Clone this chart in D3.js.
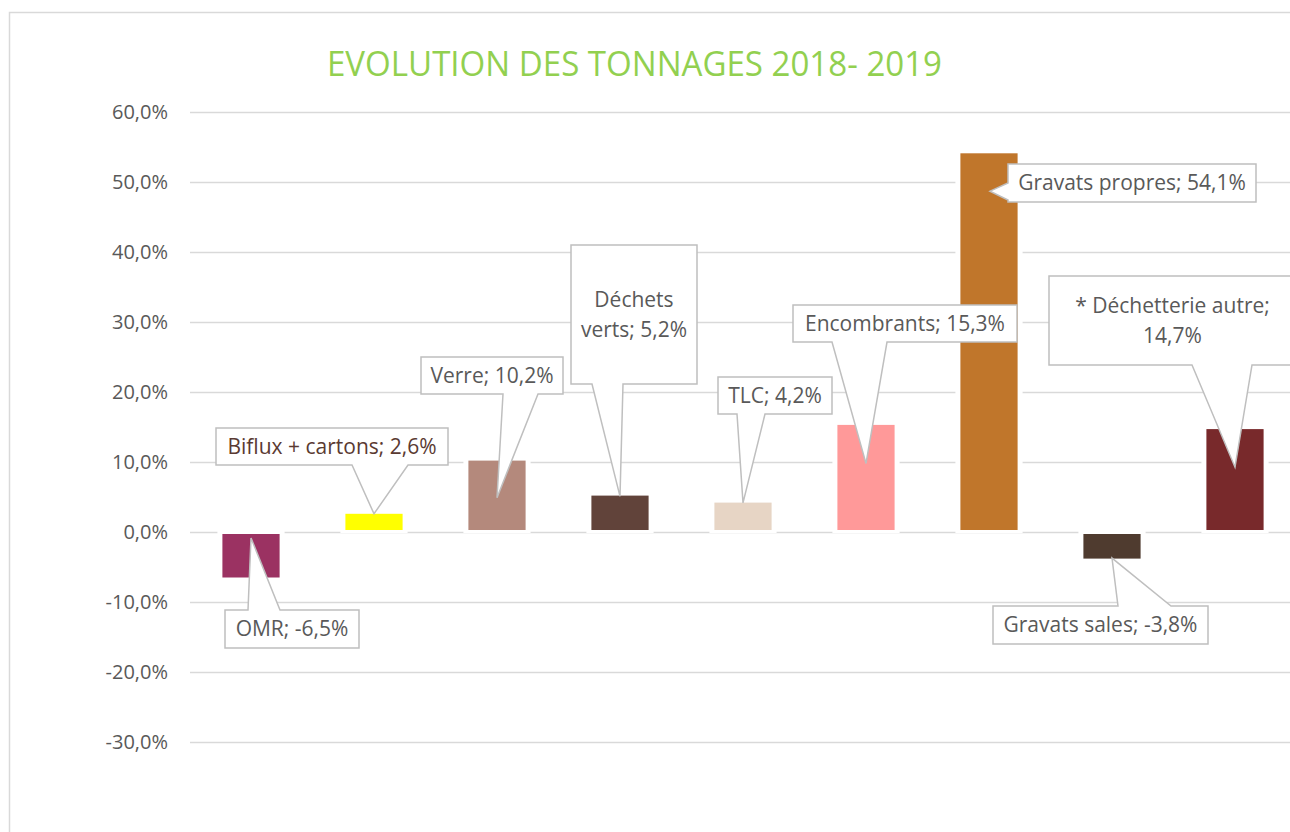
<!DOCTYPE html>
<html>
<head>
<meta charset="utf-8">
<script src="https://cdn.jsdelivr.net/npm/d3@7"></script>
<style>
  body { margin: 0; background: #fff; }
  text { font-family: "Open Sans", "Noto Sans", sans-serif; }
</style>
</head>
<body>
<div class="chart"></div>
<script>
var svgWidth = 1290;
var svgHeight = 832;

// data
var categories = ["OMR", "Biflux + cartons", "Verre", "Déchets verts", "TLC",
  "Encombrants", "Gravats propres", "Gravats sales", "* Déchetterie autre"];
var values = [-6.5, 2.6, 10.2, 5.2, 4.2, 15.3, 54.1, -3.8, 14.7];
var labelTexts = [["OMR; -6,5%"], ["Biflux + cartons; 2,6%"], ["Verre; 10,2%"],
  ["Déchets", "verts; 5,2%"], ["TLC; 4,2%"], ["Encombrants; 15,3%"],
  ["Gravats propres; 54,1%"], ["Gravats sales; -3,8%"], ["* Déchetterie autre;", "14,7%"]];
var yTicks = [60, 50, 40, 30, 20, 10, 0, -10, -20, -30];

var colors = ["#9b3262", "#ffff00", "#b4897c", "#61433a", "#e7d5c5",
  "#ff9999", "#c0762b", "#4f3b2f", "#78292b"];

// callout layout: box [x0,y0,x1,y1], side where the pointer leaves, base of pointer,
// and where along the bar (0 = axis, 1 = bar end) the pointer tip lands
var callouts = [
  { box: [225, 610, 359, 648], side: "top", base: [248, 280], tip: 0.13 },
  { box: [216, 428, 448, 465], side: "bottom", base: [352, 408], tip: 1.0 },
  { box: [421, 357, 563, 394], side: "bottom", base: [503, 538], tip: 0.48 },
  { box: [571, 245, 697, 384], side: "bottom", base: [592, 623], tip: 0.98 },
  { box: [718, 377, 832, 414], side: "bottom", base: [737, 765], tip: 0.99 },
  { box: [793, 305, 1017, 342], side: "bottom", base: [832, 887], tip: 0.64 },
  { box: [1008, 164, 1256, 202], side: "left", base: [183, 200], tip: 0.9 },
  { box: [993, 606, 1208, 644], side: "top", base: [1118, 1171], tip: 0.98 },
  { box: [1049, 276, 1300, 365], side: "bottom", base: [1192, 1252], tip: 0.63 }
];

var svg = d3.select(".chart").append("svg")
  .attr("width", svgWidth)
  .attr("height", svgHeight);

// chart frame
svg.append("path")
  .attr("d", "M9.5,832 V12.5 H1290")
  .attr("fill", "none")
  .attr("stroke", "#d9d9d9")
  .attr("stroke-width", 1.5);

// title
svg.append("text")
  .attr("x", 327)
  .attr("y", 76)
  .attr("textLength", 615)
  .attr("lengthAdjust", "spacingAndGlyphs")
  .style("font-size", "34px")
  .style("fill", "#92d050")
  .text("EVOLUTION DES TONNAGES 2018- 2019");

var xScale = d3.scaleBand()
  .domain(categories)
  .range([189.5, 1296.5])
  .paddingInner(0.535)
  .paddingOuter(0.2675);

var yScale = d3.scaleLinear()
  .domain([-30, 60])
  .range([742, 112]);

// gridlines + tick labels
var yAxis = d3.axisLeft(yScale)
  .tickValues(yTicks)
  .tickSize(-(1290 - 190))
  .tickPadding(22)
  .tickFormat(function (d) { return d.toFixed(1).replace(".", ",") + "%"; });

var axisG = svg.append("g")
  .attr("transform", "translate(190,0)")
  .call(yAxis);
axisG.select(".domain").remove();
axisG.selectAll(".tick line")
  .attr("stroke", "#d9d9d9")
  .attr("stroke-width", 1.5);
axisG.selectAll(".tick text")
  .style("font-size", "20px")
  .style("fill", "#595959")
  .style("font-family", "'Open Sans', sans-serif");

var y0 = yScale(0);

// white halo behind bars hides the gridlines near them
var barG = svg.append("g");
values.forEach(function (v, i) {
  var x = xScale(categories[i]);
  var w = xScale.bandwidth();
  var yv = yScale(v);
  var top = v >= 0 ? yv : y0 + 2;
  var bot = v >= 0 ? y0 - 2 : yv;
  barG.append("rect")
    .attr("x", x - 5)
    .attr("y", top - 3)
    .attr("width", w + 10)
    .attr("height", bot - top + 6)
    .attr("fill", "#fff");
  barG.append("rect")
    .attr("x", x)
    .attr("y", top)
    .attr("width", w)
    .attr("height", bot - top)
    .attr("fill", colors[i]);
});

// callouts
var labelG = svg.append("g");
callouts.forEach(function (c, i) {
  var v = values[i];
  var tx = xScale(categories[i]) + xScale.bandwidth() / 2;
  var ty = y0 + c.tip * (yScale(v) - y0);
  var x0 = c.box[0], y1 = c.box[1], x1 = c.box[2], y2 = c.box[3];
  var pts;
  if (c.side === "bottom") {
    pts = [[x0, y1], [x1, y1], [x1, y2], [c.base[1], y2], [tx, ty], [c.base[0], y2], [x0, y2]];
  } else if (c.side === "top") {
    pts = [[x0, y1], [c.base[0], y1], [tx, ty], [c.base[1], y1], [x1, y1], [x1, y2], [x0, y2]];
  } else {
    tx = xScale(categories[i]) + xScale.bandwidth() / 2 + 1;
    pts = [[x0, y1], [x1, y1], [x1, y2], [x0, y2], [x0, c.base[1]], [tx, ty], [x0, c.base[0]]];
  }
  labelG.append("path")
    .attr("d", d3.line()(pts) + "Z")
    .attr("fill", "#fff")
    .attr("stroke", "#bfbfbf")
    .attr("stroke-width", 1.5)
    .attr("stroke-linejoin", "miter");

  var lines = labelTexts[i];
  var cx = (x0 + Math.min(x1, 1296)) / 2;
  var cy = (y1 + y2) / 2;
  var lh = 30;
  var t = labelG.append("text")
    .attr("text-anchor", "middle")
    .style("font-size", "21px")
    .style("fill", i === 1 ? "#5a3a32" : "#595959");
  lines.forEach(function (ln, j) {
    t.append("tspan")
      .attr("x", cx)
      .attr("y", cy + (j - (lines.length - 1) / 2) * lh + 7)
      .text(ln);
  });
});
</script>
</body>
</html>
